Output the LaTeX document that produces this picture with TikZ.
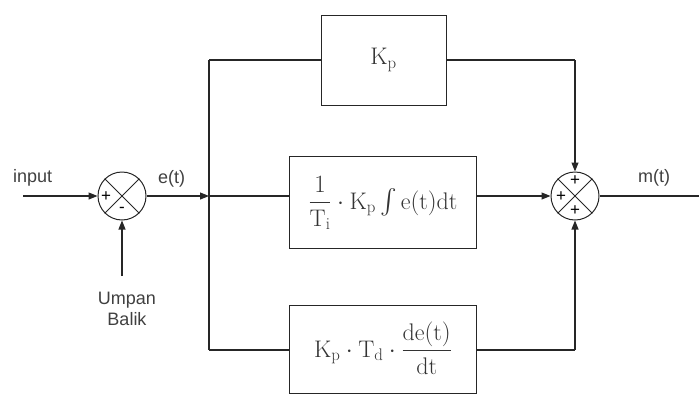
\documentclass[tikz,border=0pt]{standalone}
\usepackage{amsmath}
\usepackage{fontspec}
\setsansfont{Liberation Sans}
\usetikzlibrary{arrows.meta}
\begin{document}
\begin{tikzpicture}[x=1pt,y=-1pt,
  wire/.style={draw=black!85, line width=1.1pt},
  arr/.style={wire,-{Triangle[length=9pt,width=7pt]}},
  sumj/.style={circle, draw=black!85, line width=1pt, minimum size=48pt, inner sep=0pt},
  blk/.style={draw=black!85, line width=1.1pt, anchor=north west, inner sep=0pt},
  lbl/.style={font=\sffamily\fontsize{18}{20}\selectfont, text=black!75, inner sep=0pt},
  sgn/.style={font=\sffamily\fontsize{17}{17}\selectfont, inner sep=0pt},
  mth/.style={font=\fontsize{24}{28}\selectfont, text=black!80}]
\useasboundingbox (0,0) rectangle (699,394);
% summing junctions
\node[sumj] (s1) at (122,196) {};
\draw[line width=0.9pt,black!85] (s1.45) -- (s1.225) (s1.135) -- (s1.315);
\node[sgn] (p1) at (106,197) {+};
\node[sgn] (m1) at (122,210) {-};
\node[sumj] (s2) at (575,196) {};
\draw[line width=0.9pt,black!85] (s2.45) -- (s2.225) (s2.135) -- (s2.315);
\node[sgn] (p2a) at (575,181) {+};
\node[sgn] (p2b) at (561,197) {+};
\node[sgn] (p2c) at (575,211) {+};
% blocks
\node[blk, minimum width=125pt, minimum height=90pt] (b1) at (321,15) {};
\node[mth] (t1) at (383.5,60) {$\mathrm{K_p}$};
\node[blk, minimum width=187pt, minimum height=92pt] (b2) at (289,156) {};
\node[mth] (t2) at (383,203) {$\dfrac{1}{\mathrm{T_i}}\cdot \mathrm{K_p}\int \mathrm{e(t)dt}$};
\node[blk, minimum width=187pt, minimum height=88pt] (b3) at (289,305) {};
\node[mth] (t3) at (383,348) {$\mathrm{K_p}\cdot\mathrm{T_d}\cdot\dfrac{\mathrm{de(t)}}{\mathrm{dt}}$};
% coordinates
\coordinate (in) at (23,196);
\coordinate (fb) at (122,276);
\coordinate (br) at (209,196);
\coordinate (brT) at (209,60);
\coordinate (brB) at (209,350);
\coordinate (out) at (699,196);
\coordinate (rT) at (575,60);
\coordinate (rB) at (575,350);
% labels
\node[lbl, anchor=base west] (lin) at (13,182) {input};
\node[lbl, anchor=base west] (let) at (158,183) {e(t)};
\node[lbl, anchor=base west] (lmt) at (638,182) {m(t)};
\node[lbl, align=center, anchor=north] (lub) at (127,292) {Umpan\\[1pt]Balik};
% wires
\draw[arr] (in) -- (s1.west);
\draw[arr] (fb) -- (s1.south);
\draw[arr] (s1.east) -- (br);
\draw[wire] (brT) -- (brB);
\draw[wire] (brT) -- (b1.west |- brT);
\draw[wire] (br) -- (b2.west |- br);
\draw[wire] (brB) -- (b3.west |- brB);
\draw[wire] (b1.east |- rT) -- (rT);
\draw[arr] (rT) -- (s2.north);
\draw[arr] (b2.east |- br) -- (s2.west);
\draw[wire] (b3.east |- rB) -- (rB);
\draw[arr] (rB) -- (s2.south);
\draw[wire] (s2.east) -- (out);
\end{tikzpicture}
\end{document}
